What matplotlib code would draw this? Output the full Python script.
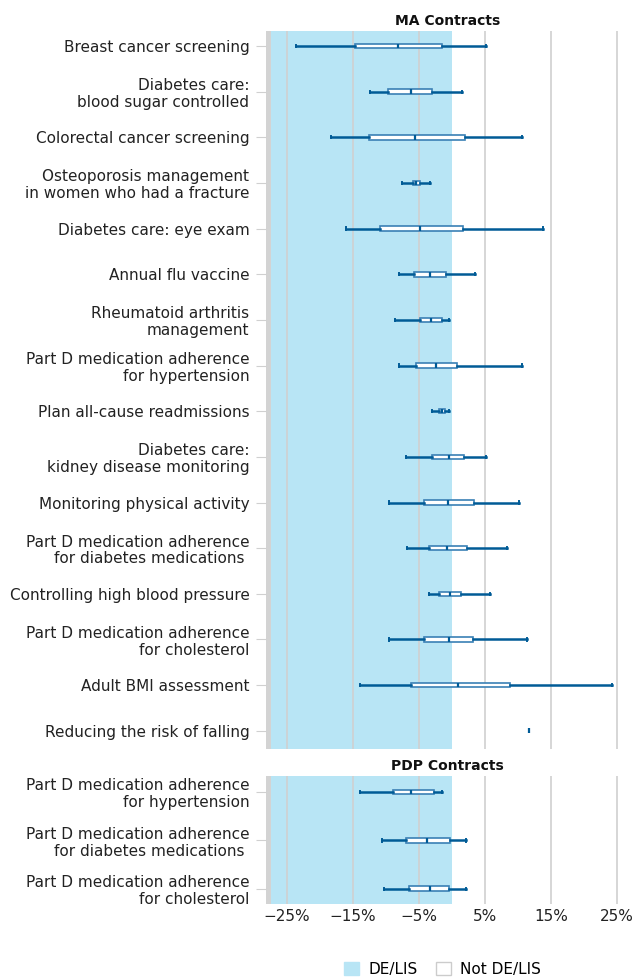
import matplotlib
matplotlib.use('Agg')
import matplotlib.pyplot as plt
from matplotlib.patches import Patch

plt.rcParams['font.family'] = ['DejaVu Sans']

# MA contracts: whisker low, Q1, median, Q3, whisker high (percent)
ma_labels = [
    "Breast cancer screening",
    "Diabetes care:\nblood sugar controlled",
    "Colorectal cancer screening",
    "Osteoporosis management\nin women who had a fracture",
    "Diabetes care: eye exam",
    "Annual flu vaccine",
    "Rheumatoid arthritis\nmanagement",
    "Part D medication adherence\nfor hypertension",
    "Plan all-cause readmissions",
    "Diabetes care:\nkidney disease monitoring",
    "Monitoring physical activity",
    "Part D medication adherence\nfor diabetes medications ",
    "Controlling high blood pressure",
    "Part D medication adherence\nfor cholesterol",
    "Adult BMI assessment",
    "Reducing the risk of falling",
]
ma_low = [-23.6, -12.5, -18.3, -7.6, -16.1, -8.1, -8.7, -8.1, -3.1, -7.0, -9.5, -6.8, -3.5, -9.5, -13.9, 11.7]
ma_q1 = [-14.7, -9.7, -12.6, -6.0, -10.9, -5.8, -4.9, -5.4, -2.0, -3.1, -4.3, -3.5, -2.0, -4.3, -6.3, 11.7]
ma_med = [-8.2, -6.2, -5.6, -5.5, -4.9, -3.3, -3.2, -2.5, -1.5, -0.5, -0.6, -0.7, -0.3, -0.5, 0.9, 11.7]
ma_q3 = [-1.5, -3.0, 1.9, -4.8, 1.7, -0.9, -1.6, 0.7, -1.0, 1.8, 3.3, 2.2, 1.4, 3.1, 8.8, 11.7]
ma_high = [5.2, 1.5, 10.6, -3.3, 13.8, 3.4, -0.5, 10.6, -0.4, 5.1, 10.1, 8.3, 5.7, 11.4, 24.2, 11.7]

# PDP contracts
pdp_labels = [
    "Part D medication adherence\nfor hypertension",
    "Part D medication adherence\nfor diabetes medications ",
    "Part D medication adherence\nfor cholesterol",
]
pdp_low = [-13.9, -10.7, -10.3]
pdp_q1 = [-9.0, -7.0, -6.6]
pdp_med = [-6.2, -3.8, -3.3]
pdp_q3 = [-2.7, -0.3, -0.5]
pdp_high = [-1.5, 2.1, 2.1]

xticks = [-25, -15, -5, 5, 15, 25]
xticklabels = ['\u221225%', '\u221215%', '\u22125%', '5%', '15%', '25%']

BLUE_BG = '#b8e5f5'
DARK = '#005b96'
EDGE = '#3a80b5'
XMIN, XMAX = -28.2, 26.7
FS = 11

fig = plt.figure(figsize=(6.32, 9.8), dpi=100)
ax_ma = fig.add_axes([0.421, 0.2357, 0.573, 0.7327])
ax_pdp = fig.add_axes([0.421, 0.0776, 0.573, 0.1306])


def draw_panel(ax, labels, low, q1, med, q3, high, title, ylim):
    n = len(labels)
    ax.axvspan(XMIN, 0, color=BLUE_BG, zorder=0, lw=0)
    ax.axvspan(XMIN, -27.45, color='#d3d3d3', zorder=0.5, lw=0)
    stats = []
    for i in range(n):
        stats.append(dict(whislo=low[i], q1=q1[i], med=med[i], q3=q3[i],
                          whishi=high[i], fliers=[]))
    ax.bxp(stats, positions=list(range(n)), orientation='horizontal',
           widths=0.1, patch_artist=True, showfliers=False,
           boxprops=dict(facecolor='white', edgecolor=EDGE, linewidth=1.2),
           medianprops=dict(color=DARK, linewidth=1.6),
           whiskerprops=dict(color=DARK, linewidth=1.8),
           capprops=dict(color=DARK, linewidth=1.4),
           capwidths=0.05, zorder=3)
    ax.set_xlim(XMIN, XMAX)
    ax.set_ylim(*ylim)
    ax.set_yticks(range(n))
    ax.set_yticklabels(labels, fontsize=FS, color='#222222', linespacing=1.15)
    ax.set_xticks(xticks)
    ax.xaxis.grid(True, color='#d0d0d0', linewidth=1.2, zorder=1)
    ax.set_axisbelow(True)
    for s in ax.spines.values():
        s.set_visible(False)
    ax.tick_params(axis='y', length=7, color='#d0d0d0', pad=5)
    ax.tick_params(axis='x', length=0)
    ax.set_title(title, fontsize=10, fontweight='bold', pad=4, color='#111111')


draw_panel(ax_ma, ma_labels, ma_low, ma_q1, ma_med, ma_q3, ma_high,
           'MA Contracts', (15.4, -0.33))
draw_panel(ax_pdp, pdp_labels, pdp_low, pdp_q1, pdp_med, pdp_q3, pdp_high,
           'PDP Contracts', (2.31, -0.33))

ax_ma.set_xticklabels([])
ax_pdp.set_xticklabels(xticklabels, fontsize=FS, color='#222222')

handles = [Patch(facecolor=BLUE_BG, edgecolor=BLUE_BG, label='DE/LIS'),
           Patch(facecolor='white', edgecolor='#cccccc', label='Not DE/LIS')]
fig.legend(handles=handles, loc='center', bbox_to_anchor=(0.70, 0.011),
           ncol=2, frameon=False, fontsize=FS, handlelength=1.0,
           handleheight=1.0, columnspacing=1.2, handletextpad=0.6)

fig.savefig('out.png', dpi=100)
